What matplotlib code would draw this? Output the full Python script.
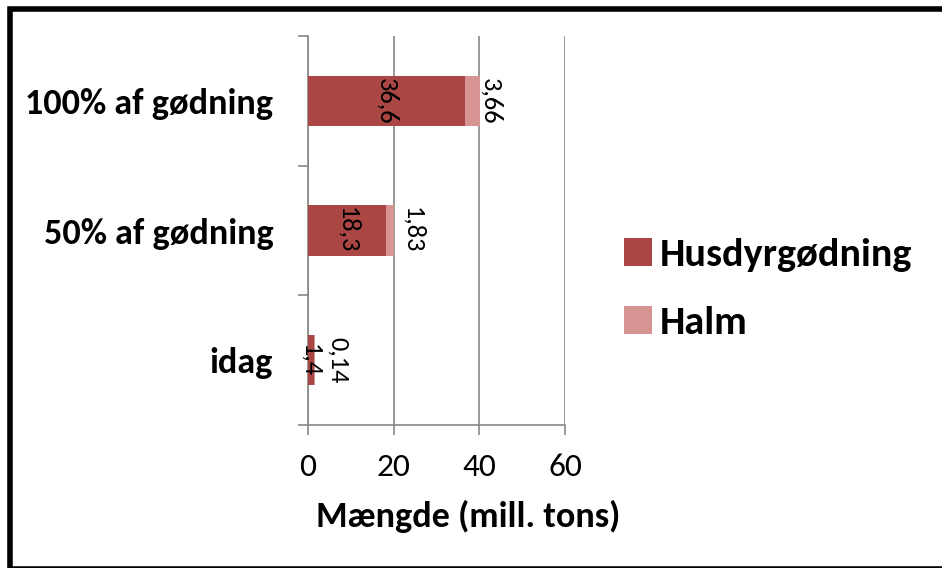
import matplotlib
matplotlib.use("Agg")
import matplotlib.pyplot as plt
from matplotlib import font_manager
from matplotlib.patches import Rectangle, Patch

available = {f.name for f in font_manager.fontManager.ttflist}
family = "Carlito" if "Carlito" in available else "Lato"
plt.rcParams['font.family'] = [family, 'DejaVu Sans']

categories = ["idag", "50% af gødning", "100% af gødning"]
husdyr = [1.4, 18.3, 36.6]
halm = [0.14, 1.83, 3.66]
husdyr_labels = ["1,4", "18,3", "36,6"]
halm_labels = ["0,14", "1,83", "3,66"]
x_ticks = [0, 20, 40, 60]

c_husdyr = "#AA4643"
c_halm = "#D69493"
grid_c = "#888888"

W, H = 942, 568
fig = plt.figure(figsize=(W / 100, H / 100), dpi=100)

# outer border (right edge and most of bottom edge fall outside the image)
fig.patches.append(Rectangle((9.5 / W, 1 - 568.8 / H), 960 / W, 559.8 / H,
                             transform=fig.transFigure, fill=False,
                             edgecolor="black", linewidth=4.0, zorder=0))

ax = fig.add_axes([308 / W, 1 - 425 / H, 257 / W, 389 / H])
y = list(range(len(categories)))
bh = 0.39
ax.barh(y, husdyr, height=bh, color=c_husdyr, zorder=3)
ax.barh(y, halm, left=husdyr, height=bh, color=c_halm, zorder=3)

ax.set_xlim(0, 60)
ax.set_ylim(-0.5, 2.5)
ax.set_xticks(x_ticks)
ax.set_xticklabels([str(t) for t in x_ticks], fontsize=24)
ax.set_yticks(y)
ax.set_yticklabels(categories, fontsize=26, fontweight="bold")
ax.set_yticks([-0.5, 0.5, 1.5, 2.5], minor=True)
ax.tick_params(axis="y", which="major", length=0, pad=25)
ax.tick_params(axis="y", which="minor", length=7, width=1.2, color=grid_c, direction="out")
ax.tick_params(axis="x", length=7, width=1.2, color=grid_c, direction="out", pad=13)

for s in ["top", "right"]:
    ax.spines[s].set_visible(False)
for s in ["left", "bottom"]:
    ax.spines[s].set_color(grid_c)
    ax.spines[s].set_linewidth(1.2)

ax.xaxis.grid(True, color=grid_c, linewidth=1.2, zorder=0)
ax.set_axisbelow(True)
ax.set_xlabel("Mængde (mill. tons)", fontsize=26, fontweight="bold",
              labelpad=14, x=0.625)

halm_dx = [24, 18, 10]
for i in range(len(categories)):
    ax.text(husdyr[i] / 2, y[i], husdyr_labels[i], rotation=-90,
            ha="center", va="center", fontsize=19, zorder=5)
    ax.annotate(halm_labels[i], (husdyr[i] + halm[i], y[i]),
                xytext=(halm_dx[i], 0), textcoords="offset pixels",
                rotation=-90, ha="center", va="center", fontsize=19, zorder=5)

handles = [Patch(facecolor=c_husdyr), Patch(facecolor=c_halm)]
leg = fig.legend(handles, ["Husdyrgødning", "Halm"],
                 loc="center left", bbox_to_anchor=(624 / W, 1 - 289 / H),
                 frameon=False, prop={"size": 29, "weight": "bold"},
                 handlelength=0.7, handleheight=0.7, handletextpad=0.2,
                 labelspacing=0.85, borderaxespad=0, borderpad=0)

fig.savefig("out.png", dpi=100, facecolor="white")
